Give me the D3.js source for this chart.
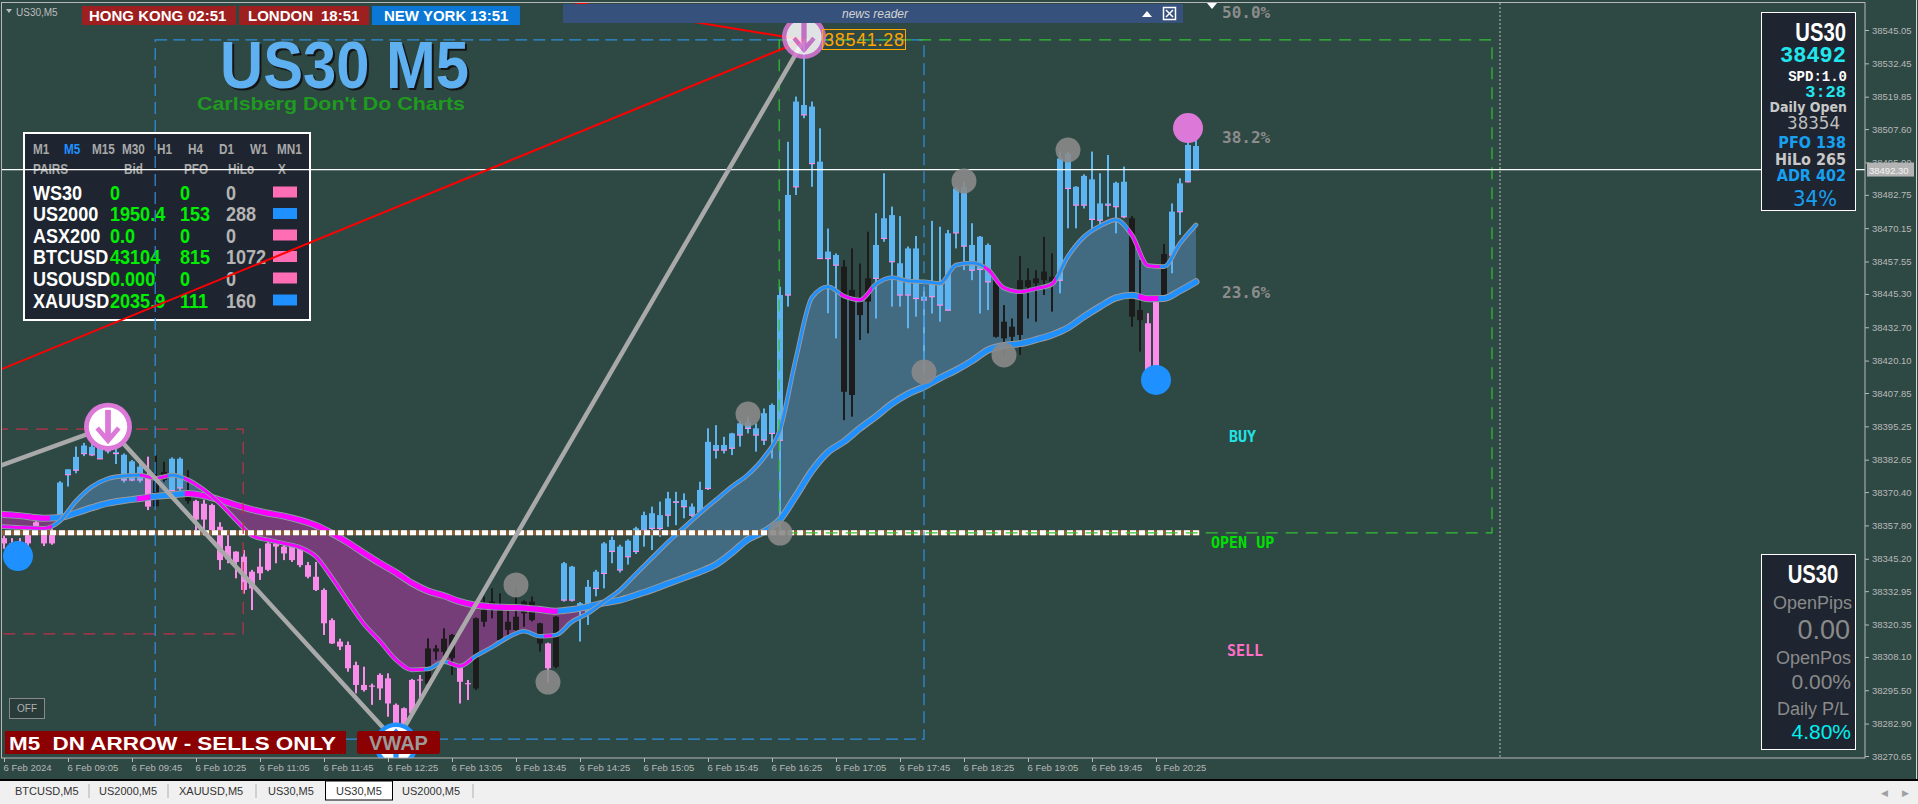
<!DOCTYPE html>
<html><head><meta charset="utf-8">
<script src="https://cdn.jsdelivr.net/npm/d3@7/dist/d3.min.js"></script>
<style>
html,body{margin:0;padding:0;background:#2e4844;overflow:hidden;}
svg{display:block;}
text{white-space:pre;}
</style></head><body>
<svg id="c" width="1918" height="804"></svg>
<script>
// ---------------- DATA ----------------
const candleOpen = [
38353,38351,38350.5,38356,38359,38355,38356,38361,38377,38378.7,
38385,38384.5,38383,38386,38385,38375,38375,38375,38376.5,38375,
38378,38371,38372,38371,38367,38366,38365.5,38357.3,38350,38347.9,
38346,38340.3,38342.2,38351,38351,38349.8,38349.8,38349,38342.8,38338.4,
38333.4,38322,38313.9,38312.6,38305,38297.5,38297.3,38301.3,38300,38290,
38288.7,38299.4,38299.6,38311.3,38311.3,38315,38316.4,38305,38298.2,38322.7,
38325.8,38329,38325.8,38321.4,38323.3,38329,38329,38320.8,38313.2,38323.3,
38329.6,38329.6,38325.8,38324.6,38334,38339.7,38348,38341,38346,38348,
38356,38356.7,38356.7,38361.7,38366.6,38364.9,38361.7,38363,38371.8,38386.3,
38386.3,38387,38392,38394.5,38392,38390.1,38392.6,38390,38444.9,38485.8,
38513,38494.6,38458.7,38458.7,38456.2,38455.6,38446.8,38442.4,38451.2,38451.2,
38466.3,38457.5,38444.9,38444.9,38443.6,38443,38444.3,38441.1,38439.2,38468.4,
38463.4,38454.3,38454.6,38449.9,38450.5,38434.8,38432.9,38450.5,38450.5,38451.2,
38453.7,38451.8,38450.5,38485.2,38478.9,38478.9,38473.5,38473.2,38478.9,38478.3,
38474.5,38473.9,38439.2,38434.2,38444.3,38460.4,38460,38476.4,38487.7,38501.2];
const candleHigh = [
38354,38353,38353,38356.5,38360,38355.5,38356.5,38374.5,38379,38387.6,
38389,38389,38390,38394,38387,38385,38382.5,38381,38383.8,38384.4,
38381.9,38383.5,38383.5,38378.7,38367.5,38367.5,38366,38359,38356,38348,
38348.5,38341,38349.1,38351.5,38351.5,38351,38350,38349.5,38344,38344,
38334,38322.7,38315,38313.9,38306.3,38304.4,38298,38301.9,38301.9,38290.5,
38289,38299.8,38301.3,38315.1,38312.6,38318.9,38316.8,38305.5,38299.4,38323,
38330.9,38334,38332.1,38325.8,38334.6,38329.5,38330.9,38321,38313.5,38323.5,
38344,38342.5,38328.8,38337.2,38341,38351.5,38353.6,38350.5,38352.5,38357.3,
38363,38364.9,38366.8,38370.5,38370.5,38369.9,38366.1,38374.3,38394.5,38395.7,
38391.3,38392.8,38397.6,38398.9,38396.4,38402,38403.9,38448,38502.8,38519.9,
38541.28,38518,38507.9,38470,38460.6,38458.1,38462.5,38456.8,38468.8,38475.8,
38490.9,38478.3,38474.7,38463.2,38467.2,38448,38472.9,38470.7,38469.5,38485.8,
38487.7,38472,38467.2,38464.4,38450.8,38441.1,38436,38459.6,38455,38454.3,
38466.9,38460.6,38499.1,38499.1,38486,38490.5,38499.1,38490.9,38497.8,38487.7,
38493.4,38474.7,38458.1,38438,38444.5,38464.2,38479.5,38489,38507.3,38506];
const candleLow = [
38349,38346,38345,38350,38357,38350,38350.5,38360,38372.5,38377.5,
38384,38384,38383,38385,38381,38374,38374.5,38374,38363.6,38365,
38374.3,38370.5,38370,38366,38356,38356,38355,38341,38343.5,38337.8,
38332,38325.8,38337.2,38340.5,38343.5,38344.7,38344,38342,38337.8,38333,
38316.4,38313,38310.7,38302.5,38294.3,38295,38290,38291.8,38285.5,38279,
38279.5,38285.5,38291.2,38298,38307,38308.2,38301.3,38290.5,38291.8,38295.6,
38319.5,38322.7,38314.5,38315.1,38318,38319.5,38321.5,38310.1,38298.1,38303.8,
38329,38329,38313.9,38320.2,38331,38334,38343.5,38340,38343,38347,
38349.8,38348.5,38353.5,38357.3,38357.9,38360.5,38361,38362.4,38371.2,38383.1,
38385,38384.4,38387.6,38392.6,38385.7,38388.2,38383.1,38356,38440.5,38482.7,
38511.7,38485.8,38458.5,38438,38428.5,38397.6,38398.9,38427.9,38430.4,38436,
38465,38440.5,38440.5,38432.3,38436.7,38415.3,38437.9,38434.8,38439,38462.5,
38454.3,38450.5,38437.9,38439.2,38428.8,38421.6,38425.3,38422.2,38436,38434.8,
38444.9,38438.6,38445.5,38470.1,38470.1,38477.6,38468.8,38470.7,38474.5,38468.2,
38473.9,38432.9,38423.5,38414.3,38412.1,38444.5,38453.1,38467.6,38487.5,38492.3];
const candleClose = [
38351,38347.2,38350,38351,38357.5,38351,38351,38374,38379,38383.7,
38388,38387.5,38389,38390,38385.5,38384.5,38382,38380,38364.9,38365,
38375,38383,38383,38367,38360,38360,38356,38344.7,38345,38344,
38333.4,38334,38339.7,38341,38349.8,38347.2,38344.7,38342.8,38338.4,38333.4,
38320.8,38313.2,38312,38303.8,38297.5,38295.6,38296.8,38296.2,38290.5,38280.5,
38280.5,38286.8,38299.2,38298,38310.1,38310,38307.6,38298.7,38297.8,38296.2,
38321.4,38325.8,38314.5,38318.3,38318.3,38324.6,38322,38313.2,38303.8,38304.4,
38343.5,38342.2,38328.4,38334.6,38340.3,38351,38352.3,38349.8,38352,38356.7,
38361.7,38362.4,38361.7,38368,38367,38367.4,38364.9,38371.2,38389.4,38388.2,
38388.2,38392.6,38396.4,38397,38394.5,38400.2,38403.3,38444.9,38482.7,38518,
38516.7,38516.1,38495.3,38461.3,38460,38408.3,38407.1,38437.3,38442.4,38463.8,
38473.9,38475.1,38456.9,38462.5,38462.5,38444.3,38449.3,38448.7,38468.2,38485.2,
38485.8,38463.8,38466.9,38463.8,38429.1,38428.5,38429.1,38429.8,38448,38449.3,
38450.5,38449.9,38496.5,38498.4,38485.8,38489.9,38488.6,38479.5,38479.5,38487.3,
38487.7,38436.7,38435.4,38414.6,38415.3,38444.9,38476.4,38487.1,38501.6,38492.3];
// b = bull trend (blue), p = bear trend (pink), k = neutral (black)
const candleState = ("ppppppp"+"bbbbbbbbbbb"+"p"+"kk"+"bb"+"k"+
  "pppppppppp"+"pppppppppp"+"ppppppppp"+"kkkk"+"pp"+"kkkkkkkkk"+"p"+"k"+
  "bbbbbbbbbb"+"bbbbbbbbbb"+"bbbbbbbbbb"+"bbbbb"+"kkkk"+"bbbbbbbbbb"+"bbbbb"+
  "kkkkkkkk"+"bbbbbbbbb"+"kk"+"pp"+"k"+"bbbb").split("");

// moving-average ribbon, read at these bar indices
const lineIdx = [-1,2,5,7,9,11,13,15,17,19,21,23,25,27,29,31,33,35,37,39,41,43,45,47,49,51,53,55,57,59,61,63,65,67,69,71,73,75,77,79,81,83,85,87,89,91,93,95,97,99,101,103,105,107,109,111,113,115,117,119,121,123,125,127,129,131,133,135,137,139,141,143,145,147,149];
const fastVals = [38357.5,38357,38356.7,38359.5,38367,38372.5,38375.5,38376.5,38376.8,38375.6,38376.8,38375,38371.2,38366.1,38359.8,38354,38352.3,38351,38349.5,38346,38338,38329,38320.5,38314,38307,38303.2,38303.5,38306.3,38304.6,38308.5,38311.8,38315.5,38317.8,38315.9,38316.4,38321.4,38324.6,38329,38333.4,38339.5,38345.5,38351.5,38357,38362.4,38367.5,38372.5,38377,38383.5,38394,38421,38444,38448,38444.5,38443,38449,38451.5,38450.2,38449.9,38449.3,38456.2,38457,38454.5,38447.5,38446.1,38447.3,38449,38459.5,38466.9,38471,38473.3,38467.5,38456,38455.6,38464.4,38471.4];
const slowVals = [38362.2,38361.5,38360.5,38360.8,38362.5,38364.5,38366.2,38367.2,38368,38368.8,38369.3,38369.9,38369,38367.4,38365.5,38363.8,38362.4,38361.3,38359.8,38357.8,38354.8,38351.3,38347.3,38343.5,38340,38336,38333,38331.2,38329,38327.6,38327.1,38326.8,38326.6,38326,38325.4,38326,38327.1,38328.5,38329.6,38331.5,38333.5,38335.8,38338,38340.3,38343,38347.5,38352.5,38355.5,38360,38369,38378.5,38385.5,38389.5,38394.5,38399,38403.8,38407.5,38410.2,38413.5,38416.5,38420,38424.1,38425.8,38426.5,38428,38429.8,38432.5,38436.7,38440.5,38443.8,38444.8,38443.5,38443.6,38446.5,38449.9];
const fastBearRanges = [[-1,6],[17,20.5],[22.5,52.5],[55.5,58.5],[67.5,68.5],[104.5,108.5],[122.5,131.5],[140.5,144.5]];
const slowBearRanges = [[-1,5.75],[16.6,18.3],[22.6,69.2],[141.8,144.3]];

const priceTicks = [38545.05,38532.45,38519.85,38507.60,38495.00,38482.75,38470.15,38457.55,38445.30,38432.70,38420.10,38407.85,38395.25,38382.65,38370.40,38357.80,38345.20,38332.95,38320.35,38308.10,38295.50,38282.90,38270.65];
const timeTickIdx = [0,8,16,24,32,40,48,56,64,72,80,88,96,104,112,120,128,136,144];
const timeTickLabels = ["6 Feb 2024","6 Feb 09:05","6 Feb 09:45","6 Feb 10:25","6 Feb 11:05","6 Feb 11:45","6 Feb 12:25","6 Feb 13:05","6 Feb 13:45","6 Feb 14:25","6 Feb 15:05","6 Feb 15:45","6 Feb 16:25","6 Feb 17:05","6 Feb 17:45","6 Feb 18:25","6 Feb 19:05","6 Feb 19:45","6 Feb 20:25"];

const currentPrice = 38492.30;
const dailyOpen = 38355;
const highLabel = "38541.28";
const zigIdx = [-20,13,49,100];
const zigPrice = [38359,38395.1,38276,38541.28];
const redLines = [[[-1,38416],[100,38541.28]],[[100,38541.28],[69.5,38556.4]]];
const grayDotIdx = [64,68,93,97,115,120,125,133];
const grayDotPrice = [38335.3,38298.6,38399.9,38354.9,38415.8,38488,38422.2,38499.7];
const dotIdx = [1.75,144,148];
const dotPrice = [38346.2,38412.8,38508];
const dotColor = ["#1e90ff","#1e90ff","#dc78d8"];
const arrowIdx = [13,100,49];
const arrowPrice = [38395.1,38542.4,38275];
const arrowDir = ["down","down","up"];
const fibPrices = [38555,38507.6,38448.9];
const fibLabels = ["50.0%","38.2%","23.6%"];
const sigLabels = ["BUY","OPEN UP","SELL"];
const sigPrices = [38391.2,38351,38310.3];
const sigColors = ["#22e4e4","#00e000","#ff6ec7"];

const sessionNames = ["HONG KONG","LONDON","NEW YORK"];
const sessionTimes = ["02:51","18:51","13:51"];
const timeframes = ["M1","M5","M15","M30","H1","H4","D1","W1","MN1"];
const tablePairs = ["WS30","US2000","ASX200","BTCUSD","USOUSD","XAUUSD"];
const tableBid = ["0","1950.4","0.0","43104","0.000","2035.9"];
const tablePFO = ["0","153","0","815","0","111"];
const tableHiLo = ["0","288","0","1072","0","160"];
const tableDir = ["dn","up","dn","dn","dn","up"];
const tabs = ["BTCUSD,M5","US2000,M5","XAUUSD,M5","US30,M5","US30,M5","US2000,M5"];

// ---------------- SETUP ----------------
const W = 1918, H = 804;
const svg = d3.select("#c");
const defs = svg.append("defs");
const SANS = '"Liberation Sans", Arial, sans-serif';
const COND = '"DejaVu Sans Condensed","DejaVu Sans",sans-serif';
const MONO = '"DejaVu Sans Mono",monospace';
const CMONO = '"Liberation Mono","Courier New",monospace';

svg.append("rect").attr("width", W).attr("height", H).attr("fill", "#2e4844");

const x = d3.scaleLinear().domain([0, 149]).range([4, 4 + 149 * 8]);
const y = d3.scaleLinear().domain([38270.65, 38545.05]).range([756, 30]);

defs.append("clipPath").attr("id", "plot").append("rect")
  .attr("x", 2).attr("y", 3).attr("width", 1863).attr("height", 755);

const gPlot = svg.append("g").attr("clip-path", "url(#plot)");

function narrowText(g, xx, yy, s, size, col, sx, anchor) {
  return g.append("text").attr("transform", `translate(${xx},${yy}) scale(${sx},1)`)
    .attr("x", 0).attr("y", 0).text(s).attr("font-family", SANS).attr("font-weight", "bold")
    .attr("font-size", size).attr("fill", col).attr("text-anchor", anchor || "start");
}

// ---------------- RIBBON FILL ----------------
const pts = lineIdx.map((d, k) => ({ i: d, fast: fastVals[k], slow: slowVals[k] }));
const curve = d3.curveMonotoneX;
const band = d3.area().x(d => x(d.i)).y0(d => y(d.slow)).y1(d => y(d.fast)).curve(curve);
defs.append("clipPath").attr("id", "aboveFast").append("path")
  .attr("d", d3.area().x(d => x(d.i)).y0(0).y1(d => y(d.fast)).curve(curve)(pts));
defs.append("clipPath").attr("id", "belowFast").append("path")
  .attr("d", d3.area().x(d => x(d.i)).y0(H).y1(d => y(d.fast)).curve(curve)(pts));
gPlot.append("g").attr("clip-path", "url(#aboveFast)").append("path")
  .attr("d", band(pts)).attr("fill", "#753e78");
gPlot.append("g").attr("clip-path", "url(#belowFast)").append("path")
  .attr("d", band(pts)).attr("fill", "#426a80");

// ---------------- CANDLES ----------------
const colMap = { b: "#5cb5f2", p: "#fa8ceb", k: "#1c1c1c" };
const bars = candleOpen.map((o, i) => ({ i, o, h: candleHigh[i], l: candleLow[i], c: candleClose[i], s: candleState[i] }));
const gC = gPlot.append("g");
bars.forEach(b => {
  const cx = x(b.i);
  const col = colMap[b.s];
  gC.append("rect").attr("x", cx - 1).attr("width", 2)
    .attr("y", y(b.h)).attr("height", Math.max(1, y(b.l) - y(b.h))).attr("fill", col);
  const top = Math.max(b.o, b.c), bot = Math.min(b.o, b.c);
  gC.append("rect").attr("x", cx - 3).attr("width", 6)
    .attr("y", y(top)).attr("height", Math.max(1.2, y(bot) - y(top))).attr("fill", col);
  if (b.s === "b") {
    gC.append("rect").attr("x", cx - 3).attr("width", 6)
      .attr("y", y(bot) - 0.5).attr("height", 1.2).attr("fill", "#fa8ceb");
  }
});

// ---------------- MA LINES ----------------
function clipRanges(id, ranges) {
  const cp = defs.append("clipPath").attr("id", id);
  ranges.forEach(r => cp.append("rect").attr("x", x(r[0])).attr("y", 0)
    .attr("width", x(r[1]) - x(r[0])).attr("height", H));
}
clipRanges("fastBear", fastBearRanges);
clipRanges("slowBear", slowBearRanges);
const lineF = d3.line().x(d => x(d.i)).y(d => y(d.fast)).curve(curve);
const lineS = d3.line().x(d => x(d.i)).y(d => y(d.slow)).curve(curve);
const gL = gPlot.append("g").attr("fill", "none").attr("stroke-linejoin", "round").attr("stroke-linecap", "round");
gL.append("path").attr("d", lineS(pts)).attr("stroke", "#9a9a9a").attr("stroke-width", 7);
gL.append("path").attr("d", lineS(pts)).attr("stroke", "#1e90ff").attr("stroke-width", 5);
gL.append("g").attr("clip-path", "url(#slowBear)").append("path").attr("d", lineS(pts)).attr("stroke", "#ff00ff").attr("stroke-width", 5);
gL.append("path").attr("d", lineF(pts)).attr("stroke", "#9a9a9a").attr("stroke-width", 4.6);
gL.append("path").attr("d", lineF(pts)).attr("stroke", "#1e90ff").attr("stroke-width", 2.8);
gL.append("g").attr("clip-path", "url(#fastBear)").append("path").attr("d", lineF(pts)).attr("stroke", "#ff00ff").attr("stroke-width", 2.8);

// ---------------- LEFT TABLE PANEL ----------------
const gT = svg.append("g");
gT.append("rect").attr("x", 24).attr("y", 133).attr("width", 286).attr("height", 187)
  .attr("fill", "#1e2530").attr("stroke", "#ffffff").attr("stroke-width", 2);
const tfX = [33, 64, 92, 122, 157, 188, 219, 250, 277];
timeframes.forEach((t, k) => narrowText(gT, tfX[k], 154, t, 14, t === "M5" ? "#1e90ff" : "#a8a8a8", 0.84));
[["PAIRS", 33], ["Bid", 124], ["PFO", 184], ["HiLo", 228], ["X", 278]].forEach(h =>
  narrowText(gT, h[1], 174, h[0], 14, "#a8a8a8", 0.84));
const rowY = [192, 213.5, 235, 256.5, 278, 300];
tablePairs.forEach((p, k) => {
  const by = rowY[k] + 7.5;
  narrowText(gT, 33, by, p, 21, "#ffffff", 0.86);
  narrowText(gT, 110, by, tableBid[k], 21, "#00ee00", 0.86);
  narrowText(gT, 180, by, tablePFO[k], 21, "#00ee00", 0.86);
  narrowText(gT, 226, by, tableHiLo[k], 21, "#b4b4b4", 0.86);
  gT.append("rect").attr("x", 273).attr("y", rowY[k] - 5.5).attr("width", 24).attr("height", 11)
    .attr("fill", tableDir[k] === "up" ? "#1e90ff" : "#ff6eb4");
});

// ---------------- OBJECTS ----------------
const gO = svg.append("g").attr("clip-path", "url(#plot)");
gO.append("line").attr("x1", 1500).attr("x2", 1500).attr("y1", 3).attr("y2", 758)
  .attr("stroke", "#b8b8b8").attr("stroke-dasharray", "2,2");
gO.append("line").attr("x1", x(-1)).attr("x2", x(149.5)).attr("y1", y(dailyOpen)).attr("y2", y(dailyOpen))
  .attr("stroke", "#8e6038").attr("stroke-width", 5);
gO.append("line").attr("x1", x(-1)).attr("x2", x(149.5)).attr("y1", y(dailyOpen)).attr("y2", y(dailyOpen))
  .attr("stroke", "#ffffff").attr("stroke-width", 5).attr("stroke-dasharray", "6,3");
function dashRect(i0, i1, p0, p1, col, dash) {
  gO.append("rect").attr("x", x(i0)).attr("y", y(p1)).attr("width", x(i1) - x(i0)).attr("height", y(p0) - y(p1))
    .attr("fill", "none").attr("stroke", col).attr("stroke-width", 1.2).attr("stroke-dasharray", dash);
}
dashRect(-1, 29.9, 38316.8, 38394.2, "#c0304a", "12,8");
dashRect(18.9, 115, 38277, 38541.28, "#2f8fe0", "12,6");
dashRect(96.9, 186, dailyOpen, 38541.28, "#33c233", "12,8");
gO.append("line").attr("x1", 0).attr("x2", 1865).attr("y1", y(currentPrice)).attr("y2", y(currentPrice))
  .attr("stroke", "#ffffff").attr("stroke-width", 1.2);
gO.append("path").attr("d", d3.line().x(d => x(d[0])).y(d => y(d[1]))(zigIdx.map((d, k) => [d, zigPrice[k]])))
  .attr("fill", "none").attr("stroke", "#a9a9a9").attr("stroke-width", 4.5);
redLines.forEach(l => gO.append("path").attr("d", d3.line().x(d => x(d[0])).y(d => y(d[1]))(l))
  .attr("fill", "none").attr("stroke", "#ff0000").attr("stroke-width", 2));
grayDotIdx.forEach((d, k) => gO.append("circle").attr("cx", x(d)).attr("cy", y(grayDotPrice[k])).attr("r", 12.5)
  .attr("fill", "#8a8a8a").attr("fill-opacity", 0.9));
dotIdx.forEach((d, k) => gO.append("circle").attr("cx", x(d)).attr("cy", y(dotPrice[k])).attr("r", 15)
  .attr("fill", dotColor[k]));
arrowIdx.forEach((d, k) => {
  const r = k === 0 ? 24 : 22;
  const col = arrowDir[k] === "up" ? "#1e90ff" : "#dc78d8";
  const g = gO.append("g").attr("transform", `translate(${x(d)},${y(arrowPrice[k])})`)
    .attr("opacity", k === 1 ? 0.85 : 1);
  g.append("circle").attr("r", r).attr("fill", col);
  g.append("circle").attr("r", r * 0.8).attr("fill", "#ffffff");
  const s = arrowDir[k] === "up" ? -1 : 1;
  g.append("line").attr("x1", 0).attr("x2", 0).attr("y1", -0.7 * r * s).attr("y2", 0.55 * r * s)
    .attr("stroke", col).attr("stroke-width", r * 0.24);
  g.append("path").attr("d", `M${-0.45 * r},${0.05 * r * s} L0,${0.58 * r * s} L${0.45 * r},${0.05 * r * s}`)
    .attr("fill", "none").attr("stroke", col).attr("stroke-width", r * 0.2);
});
gO.append("rect").attr("x", 822.5).attr("y", 29.5).attr("width", 83).attr("height", 20)
  .attr("fill", "none").attr("stroke", "#ffa500").attr("stroke-width", 1);
gO.append("text").attr("x", 824).attr("y", 46).text(highLabel)
  .attr("font-family", SANS).attr("font-size", 18).attr("fill", "#ffa500").attr("textLength", 80);
fibPrices.forEach((p, k) => gO.append("text").attr("x", 1222).attr("y", y(p) + 14).text(fibLabels[k])
  .attr("font-family", MONO).attr("font-weight", "bold").attr("font-size", 16).attr("fill", "#8c8c8c"));
const sigX = [1229, 1211, 1227];
sigLabels.forEach((s, k) => gO.append("text").attr("x", sigX[k]).attr("y", y(sigPrices[k]) + 5).text(s)
  .attr("font-family", MONO).attr("font-weight", "bold").attr("font-size", 15).attr("fill", sigColors[k]));
svg.append("path").attr("d", "M1207,3 L1217,3 L1212,9 Z").attr("fill", "#ffffff");

// ---------------- FRAME & AXES ----------------
svg.append("rect").attr("x", 1.5).attr("y", 2.5).attr("width", 1863.5).attr("height", 755.5)
  .attr("fill", "none").attr("stroke", "#b8b8b8").attr("stroke-width", 1);
svg.append("line").attr("x1", 1916.5).attr("x2", 1916.5).attr("y1", 0).attr("y2", 779).attr("stroke", "#d8d8d8");
const yAxis = d3.axisRight(y).tickValues(priceTicks).tickFormat(d3.format(".2f")).tickSize(4).tickPadding(3);
const gy = svg.append("g").attr("transform", "translate(1865,0)").call(yAxis);
gy.select(".domain").remove();
gy.selectAll("line").attr("stroke", "#b8b8b8");
gy.selectAll("text").attr("fill", "#b8b8b8").attr("font-family", SANS).attr("font-size", 9.5);
const xAxis = d3.axisBottom(x).tickValues(timeTickIdx).tickFormat((d, k) => timeTickLabels[k]).tickSize(4).tickPadding(2);
const gx = svg.append("g").attr("transform", "translate(0,758)").call(xAxis);
gx.select(".domain").remove();
gx.selectAll("line").attr("stroke", "#b8b8b8");
gx.selectAll("text").attr("fill", "#b8b8b8").attr("font-family", SANS).attr("font-size", 9.5)
  .attr("text-anchor", "start").attr("dx", -1);
svg.append("rect").attr("x", 1867).attr("y", y(currentPrice) - 7).attr("width", 47).attr("height", 14).attr("fill", "#b4b4b4");
svg.append("text").attr("x", 1869).attr("y", y(currentPrice) + 4).text(currentPrice.toFixed(2))
  .attr("font-family", SANS).attr("font-size", 9.5).attr("fill", "#f4f4f4");

// ---------------- TOP HEADER ----------------
svg.append("path").attr("d", "M6,9 L12,9 L9,13 Z").attr("fill", "#bdbdbd");
svg.append("text").attr("x", 16).attr("y", 16).text("US30,M5").attr("font-family", SANS).attr("font-size", 10).attr("fill", "#bdbdbd");
const sesBox = [[82, 236, "#9e1f1f"], [239, 369, "#9e1f1f"], [372, 520, "#0a78d4"]];
const sesNameX = [89, 248, 384], sesTimeX = [188, 321, 470];
sessionNames.forEach((n, k) => {
  svg.append("rect").attr("x", sesBox[k][0]).attr("y", 6).attr("width", sesBox[k][1] - sesBox[k][0]).attr("height", 19).attr("fill", sesBox[k][2]);
  svg.append("text").attr("x", sesNameX[k]).attr("y", 21).text(n).attr("font-family", SANS).attr("font-weight", "bold").attr("font-size", 15).attr("fill", "#fff");
  svg.append("text").attr("x", sesTimeX[k]).attr("y", 21).text(sessionTimes[k]).attr("font-family", SANS).attr("font-weight", "bold").attr("font-size", 15).attr("fill", "#fff");
});
svg.append("rect").attr("x", 563).attr("y", 4).attr("width", 620).attr("height", 19).attr("fill", "#36517c");
svg.append("text").attr("x", 875).attr("y", 18).attr("text-anchor", "middle").text("news reader")
  .attr("font-family", SANS).attr("font-style", "italic").attr("font-size", 12).attr("fill", "#d4d4d4");
svg.append("path").attr("d", "M1142,17 L1152,17 L1147,11 Z").attr("fill", "#fff");
svg.append("rect").attr("x", 1163.5).attr("y", 7.5).attr("width", 12).attr("height", 12).attr("fill", "none").attr("stroke", "#fff").attr("stroke-width", 1.5);
svg.append("path").attr("d", "M1166,10 L1173,17 M1173,10 L1166,17").attr("stroke", "#fff").attr("stroke-width", 1.5);
// Title
svg.append("text").attr("x", 222).attr("y", 90).text("US30 M5").attr("font-family", SANS).attr("font-weight", "bold")
  .attr("font-size", 66).attr("fill", "#151515").attr("textLength", 249).attr("lengthAdjust", "spacingAndGlyphs");
svg.append("text").attr("x", 220).attr("y", 88).text("US30 M5").attr("font-family", SANS).attr("font-weight", "bold")
  .attr("font-size", 66).attr("fill", "#5eb0f0").attr("textLength", 249).attr("lengthAdjust", "spacingAndGlyphs");
svg.append("text").attr("x", 197).attr("y", 110).text("Carlsberg Don't Do Charts").attr("font-family", SANS).attr("font-weight", "bold")
  .attr("font-size", 19).attr("fill", "#1f9a1f").attr("textLength", 268).attr("lengthAdjust", "spacingAndGlyphs");

// ---------------- RIGHT PANELS ----------------
const rt = (g, xx, yy, s, fam, sz, wt, col, anchor) => g.append("text").attr("x", xx).attr("y", yy).text(s)
  .attr("font-family", fam).attr("font-size", sz).attr("font-weight", wt).attr("fill", col).attr("text-anchor", anchor || "end");
const p1 = svg.append("g");
p1.append("rect").attr("x", 1761.5).attr("y", 12.5).attr("width", 94).attr("height", 198)
  .attr("fill", "#1e2530").attr("stroke", "#fff").attr("stroke-width", 1);
narrowText(p1, 1846, 41, "US30", 26, "#ffffff", 0.78, "end");
rt(p1, 1846, 62, "38492", CMONO, 22, "bold", "#22e6ee");
rt(p1, 1847, 81, "SPD:1.0", CMONO, 14, "bold", "#ffffff");
rt(p1, 1846, 97, "3:28", CMONO, 17, "bold", "#22e6ee");
rt(p1, 1847, 112, "Daily Open", COND, 14, "bold", "#c8c8c8");
rt(p1, 1840, 129, "38354", COND, 18.5, "normal", "#bdbdbd");
rt(p1, 1846, 148, "PFO 138", COND, 16, "bold", "#18a0f0");
rt(p1, 1846, 164.5, "HiLo 265", COND, 16, "bold", "#c8c8c8");
rt(p1, 1846, 181, "ADR 402", COND, 16, "bold", "#18a0f0");
rt(p1, 1815, 206, "34%", COND, 22, "normal", "#18a0f0", "middle");

const p2 = svg.append("g");
p2.append("rect").attr("x", 1761.5).attr("y", 554.5).attr("width", 94).attr("height", 195)
  .attr("fill", "#1e2530").attr("stroke", "#fff").attr("stroke-width", 1);
narrowText(p2, 1813, 583, "US30", 26, "#ffffff", 0.78, "middle");
rt(p2, 1852, 609, "OpenPips", SANS, 18, "normal", "#8a8a8a");
rt(p2, 1850, 639, "0.00", SANS, 27, "normal", "#8a8a8a");
rt(p2, 1851, 664, "OpenPos", SANS, 18, "normal", "#8a8a8a");
rt(p2, 1851, 689, "0.00%", SANS, 21, "normal", "#8a8a8a");
rt(p2, 1849, 715, "Daily P/L", SANS, 18, "normal", "#8a8a8a");
rt(p2, 1851, 739, "4.80%", SANS, 21, "normal", "#00f0f0");

// ---------------- BOTTOM LEFT LABELS ----------------
svg.append("rect").attr("x", 9.5).attr("y", 698.5).attr("width", 35).attr("height", 20).attr("fill", "#2a3c3a").attr("stroke", "#8a8a8a");
svg.append("text").attr("x", 27).attr("y", 712).attr("text-anchor", "middle").text("OFF").attr("font-family", SANS).attr("font-size", 10).attr("fill", "#b0b0b0");
svg.append("rect").attr("x", 5).attr("y", 731).attr("width", 341).attr("height", 23).attr("fill", "#8b0000");
svg.append("text").attr("x", 9).attr("y", 750).text("M5  DN ARROW - SELLS ONLY").attr("font-family", SANS).attr("font-weight", "bold")
  .attr("font-size", 19).attr("fill", "#fff").attr("textLength", 327).attr("lengthAdjust", "spacingAndGlyphs");
svg.append("rect").attr("x", 357).attr("y", 731).attr("width", 83).attr("height", 23).attr("rx", 3).attr("fill", "#8b0000");
svg.append("text").attr("x", 398.5).attr("y", 750).attr("text-anchor", "middle").text("VWAP").attr("font-family", SANS).attr("font-weight", "bold")
  .attr("font-size", 20).attr("fill", "#9a9a9a");

// ---------------- TAB BAR ----------------
svg.append("rect").attr("x", 0).attr("y", 780).attr("width", W).attr("height", 24).attr("fill", "#f0f0f0");
svg.append("rect").attr("x", 0).attr("y", 779).attr("width", W).attr("height", 2).attr("fill", "#000");
const tabX = [15, 99, 179, 268, 336, 402];
const sepX = [89, 168, 256, 323, 392, 473];
svg.append("rect").attr("x", 325.5).attr("y", 781).attr("width", 67).attr("height", 19).attr("fill", "#fff").attr("stroke", "#000").attr("stroke-width", 1);
tabs.forEach((t, k) => {
  svg.append("text").attr("x", tabX[k]).attr("y", 795).text(t).attr("font-family", SANS).attr("font-size", 11).attr("fill", "#333");
  if (k !== 3 && k !== 4) svg.append("line").attr("x1", sepX[k]).attr("x2", sepX[k]).attr("y1", 784).attr("y2", 798).attr("stroke", "#b0b0b0");
});
svg.append("text").attr("x", 1881).attr("y", 796).text("◀").attr("font-size", 9).attr("fill", "#a0a0a0");
svg.append("text").attr("x", 1902).attr("y", 796).text("▶").attr("font-size", 9).attr("fill", "#a0a0a0");
</script>
</body></html>
